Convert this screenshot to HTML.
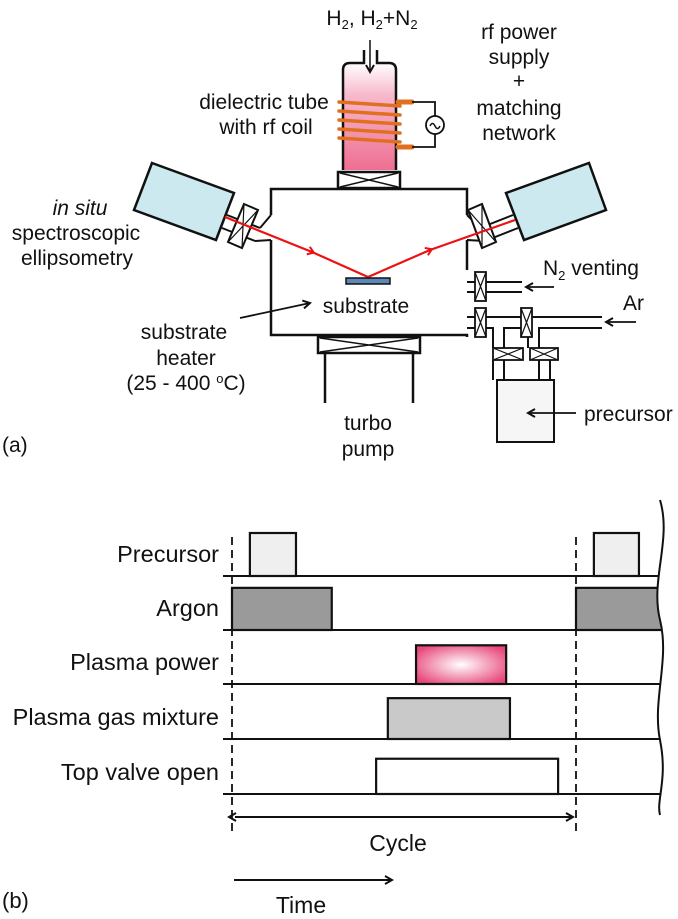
<!DOCTYPE html>
<html><head><meta charset="utf-8">
<style>
html,body{margin:0;padding:0;background:#fff;}
svg{display:block;}
text{font-family:"Liberation Sans",sans-serif;font-size:21px;fill:#111;}
</style></head>
<body>
<svg id="fig" width="678" height="919" viewBox="0 0 678 919" xmlns="http://www.w3.org/2000/svg">
<defs>
<linearGradient id="tubeGrad" x1="0" y1="0" x2="0" y2="1">
<stop offset="0" stop-color="#fff"/><stop offset="0.3" stop-color="#f7b9cc"/><stop offset="1" stop-color="#ee6f92"/>
</linearGradient>
<radialGradient id="plasmaGrad" cx="0.5" cy="0.5" r="0.6">
<stop offset="0" stop-color="#fff"/><stop offset="1" stop-color="#e8477a"/>
</radialGradient>
<marker id="ah" markerWidth="10" markerHeight="10" refX="8" refY="5" orient="auto" markerUnits="userSpaceOnUse">
<path d="M1,1 L8,5 L1,9" fill="none" stroke="#111" stroke-width="2"/></marker>
<marker id="ahs" markerWidth="10" markerHeight="10" refX="2" refY="5" orient="auto-start-reverse" markerUnits="userSpaceOnUse">
<path d="M1,1 L8,5 L1,9" fill="none" stroke="#111" stroke-width="2"/></marker>
<marker id="ahr" markerWidth="12" markerHeight="12" refX="6" refY="6" orient="auto" markerUnits="userSpaceOnUse">
<path d="M2,2 L8,6 L2,10" fill="none" stroke="#e11" stroke-width="2"/></marker>
</defs>

<g stroke="#111" stroke-width="2.5" fill="none">
  <path d="M271,215 V189 H467 V215 M271,240 V335 H467 V337 M467,240 V270" fill="none"/>
  <path d="M343,170 V70 Q343,63 350,63 H389 Q396,63 396,70 V170 Z" fill="url(#tubeGrad)" stroke="none"/>
  <path d="M343,170 V70 Q343,63 350,63 H364 V50 M377,50 V63 H389 Q396,63 396,70 V170"/>
  <line x1="370" y1="40" x2="370" y2="72" stroke-width="1.5" marker-end="url(#ah)"/>
  <g stroke="#e07020" stroke-width="3.5" stroke-linecap="round">
    <line x1="339" y1="102" x2="400" y2="106"/>
    <line x1="339" y1="111" x2="400" y2="115"/>
    <line x1="339" y1="120" x2="400" y2="124"/>
    <line x1="339" y1="129" x2="400" y2="133"/>
    <line x1="339" y1="138" x2="400" y2="142"/>
    <line x1="398" y1="102" x2="412" y2="102" stroke-width="5"/>
    <line x1="398" y1="147" x2="412" y2="147" stroke-width="5"/>
  </g>
  <path d="M412,102 H435 V116 M435,134 V147 H412" stroke-width="1.8"/>
  <circle cx="435" cy="125" r="9" stroke-width="1.8" fill="#fff"/>
  <path d="M430,126 q2.5,-5 5,0 t5,0" stroke-width="1.5"/>
  <rect x="338" y="172" width="62" height="16" fill="#fff"/>
  <path d="M340,173 L398,187 M340,187 L398,173" stroke-width="1.5"/>
  <rect x="318" y="337" width="102" height="16" fill="#fff"/>
  <path d="M320,338 L418,352 M320,352 L418,338" stroke-width="1.5"/>
  <line x1="325" y1="353" x2="325" y2="403"/>
  <line x1="413" y1="353" x2="413" y2="403"/>
  <polygon points="152,163 234,193 216,240 134,210" fill="#cce9ef"/>
  <polygon points="589,163 606,210 524,240 506,193" fill="#cce9ef"/>
  <path d="M227,215 L260,228 M222,228 L255,241 M271,215 L260,228 M271,240 L255,241" stroke-width="2"/>
  <path d="M513,215 L480,228 M518,228 L485,241 M467,215 L480,228 M467,240 L485,241" stroke-width="2"/>
  <polygon points="244,204 258,210 242,248 228,242" fill="#fff" stroke-width="2"/>
  <path d="M244,204 L242,248 M258,210 L228,242" stroke-width="1.2"/>
  <polygon points="482,204 496,242 482,248 468,210" fill="#fff" stroke-width="2"/>
  <path d="M482,204 L482,248 M468,210 L496,242" stroke-width="1.2"/>
  <g stroke="#e11" stroke-width="2.2">
    <line x1="225" y1="217" x2="312" y2="252" marker-end="url(#ahr)"/>
    <line x1="312" y1="252" x2="368" y2="277"/>
    <line x1="368" y1="277" x2="430" y2="250" marker-end="url(#ahr)"/>
    <line x1="430" y1="250" x2="515" y2="220"/>
  </g>
  <rect x="346" y="278" width="44" height="6" fill="#5b88b8" stroke-width="1.5"/>
  <line x1="240" y1="318" x2="310" y2="303" stroke-width="1.8" marker-end="url(#ah)"/>
  <path d="M467,282 H522 M467,292 H522" stroke-width="2"/>
  <rect x="475" y="272" width="11" height="29" fill="#fff" stroke-width="1.8"/>
  <path d="M475,272 L486,301 M486,272 L475,301" stroke-width="1.2"/>
  <line x1="554" y1="287" x2="526" y2="287" stroke-width="1.8" marker-end="url(#ah)"/>
  <path d="M467,317 H602 M467,328 H493 V348 M504,348 V328 H528 V348 M539,348 V328 H602" stroke-width="2"/>
  <rect x="475" y="308" width="11" height="29" fill="#fff" stroke-width="1.8"/>
  <path d="M475,308 L486,337 M486,308 L475,337" stroke-width="1.2"/>
  <rect x="521" y="308" width="11" height="29" fill="#fff" stroke-width="1.8"/>
  <path d="M521,308 L532,337 M532,308 L521,337" stroke-width="1.2"/>
  <line x1="636" y1="322" x2="606" y2="322" stroke-width="1.8" marker-end="url(#ah)"/>
  <path d="M493,360 V380 M504,360 V380 M539,360 V380 M550,360 V380" stroke-width="2"/>
  <rect x="493" y="348" width="30" height="12" fill="#fff" stroke-width="1.8"/>
  <path d="M493,348 L523,360 M523,348 L493,360" stroke-width="1.2"/>
  <rect x="530" y="348" width="28" height="12" fill="#fff" stroke-width="1.8"/>
  <path d="M530,348 L558,360 M558,348 L530,360" stroke-width="1.2"/>
  <rect x="497" y="380" width="57" height="62" fill="#f6f6f6" stroke-width="2"/>
  <line x1="576" y1="413" x2="528" y2="413" stroke-width="1.8" marker-end="url(#ah)"/>
</g>

<g>
  <text x="372" y="25" text-anchor="middle">H<tspan font-size="13" dy="4">2</tspan><tspan dy="-4">, H</tspan><tspan font-size="13" dy="4">2</tspan><tspan dy="-4">+N</tspan><tspan font-size="13" dy="4">2</tspan></text>
  <text text-anchor="middle">
    <tspan x="519" y="39">rf power</tspan><tspan x="519" y="64">supply</tspan><tspan x="519" y="88">+</tspan><tspan x="519" y="115">matching</tspan><tspan x="519" y="140">network</tspan></text>
  <text text-anchor="middle"><tspan x="264" y="109">dielectric tube</tspan><tspan x="266" y="134">with rf coil</tspan></text>
  <text text-anchor="middle"><tspan x="80" y="215" font-style="italic">in situ</tspan><tspan x="76" y="240">spectroscopic</tspan><tspan x="77" y="265">ellipsometry</tspan></text>
  <text x="366" y="313" text-anchor="middle">substrate</text>
  <text text-anchor="middle"><tspan x="184" y="339">substrate</tspan><tspan x="186" y="365">heater</tspan><tspan x="186" y="390">(25 - 400 <tspan font-size="13" dy="-7">o</tspan><tspan dy="7">C)</tspan></tspan></text>
  <text text-anchor="middle"><tspan x="368" y="430">turbo</tspan><tspan x="368" y="456">pump</tspan></text>
  <text x="543" y="275">N<tspan font-size="13" dy="5">2</tspan><tspan dy="-5"> venting</tspan></text>
  <text x="623" y="310">Ar</text>
  <text x="584" y="421">precursor</text>
  <text x="2" y="452">(a)</text>
</g>

<g id="timing"></g>
</svg>
<script>
// Timing diagram data (time in % of one cycle)
const rows = ["Precursor", "Argon", "Plasma power", "Plasma gas mixture", "Top valve open"];
const pulseStart = [5.2, 0, 53.5, 45.3, 41.9];
const pulseEnd = [18.6, 29, 79.7, 80.8, 94.8];
const nextStart = [105.2, 100, null, null, null];
const nextEnd = [118.3, 130, null, null, null];
const pulseLevel = [1.0, 0.98, 0.9, 0.95, 0.82];
const fills = ["#efefef", "#9a9a9a", "url(#plasmaGrad)", "#c9c9c9", "#ffffff"];

const NS = "http://www.w3.org/2000/svg";
const g = document.getElementById("timing");
const x0 = 232, x1 = 576;
function xs(t){ return x0 + (t/100)*(x1-x0); }
const baseY = [576, 630, 684, 739, 794];
const rowH = 43;
function ys(i, v){ return baseY[i] - v*rowH; }
function mk(tag, attrs){ const e=document.createElementNS(NS,tag); for(const k in attrs) e.setAttribute(k,attrs[k]); g.appendChild(e); return e; }

const clip = document.createElementNS(NS,"clipPath"); clip.setAttribute("id","wavyClip");
const cp = document.createElementNS(NS,"path"); cp.setAttribute("d","M0,0 H660 V500 C672,540 650,580 660,620 C670,660 652,700 660,740 C668,780 656,800 660,815 V919 H0 Z");
clip.appendChild(cp); g.appendChild(clip);

rows.forEach((name,i)=>{
  const lab = mk("text",{x:219,y:baseY[i]-22+8,"text-anchor":"end",style:"font-size:23.5px"});
  lab.textContent = name;
  
  
  const r = mk("rect",{x:xs(pulseStart[i]),y:ys(i,pulseLevel[i]),width:xs(pulseEnd[i])-xs(pulseStart[i]),height:pulseLevel[i]*rowH,fill:fills[i],stroke:"#111","stroke-width":2.2,"clip-path":"url(#wavyClip)"});
  
  
  if(nextStart[i]!==null){
    const r2 = mk("rect",{x:xs(nextStart[i]),y:ys(i,pulseLevel[i]),width:xs(nextEnd[i])-xs(nextStart[i]),height:pulseLevel[i]*rowH,fill:fills[i],stroke:"#111","stroke-width":2.2,"clip-path":"url(#wavyClip)"});
    
    
  }
  const bl = mk("line",{x1:223,y1:baseY[i],x2:664,y2:baseY[i],stroke:"#111","stroke-width":2,"clip-path":"url(#wavyClip)"});
  
  
});
[0,100].forEach(t=>{
  const d = mk("line",{x1:xs(t),y1:537,x2:xs(t),y2:833,stroke:"#111","stroke-width":1.8,"stroke-dasharray":"8,5"});
  
  
});
const w = mk("path",{d:"M660,500 C672,540 650,580 660,620 C670,660 652,700 660,740 C668,780 656,800 660,815",fill:"none",stroke:"#111","stroke-width":2});


const ca = mk("line",{x1:xs(0)+3,y1:817,x2:xs(100)-3,y2:817,stroke:"#111","stroke-width":2,"marker-start":"url(#ahs)","marker-end":"url(#ah)"});


const ct = mk("text",{x:398,y:851,"text-anchor":"middle",style:"font-size:23px"}); ct.textContent="Cycle";


const ta = mk("line",{x1:234,y1:880,x2:392,y2:880,stroke:"#111","stroke-width":2,"marker-end":"url(#ah)"});


const tt = mk("text",{x:301,y:913,"text-anchor":"middle",style:"font-size:23px"}); tt.textContent="Time";


const pb = mk("text",{x:2,y:908,style:"font-size:22px"}); pb.textContent="(b)";


</script>
</body></html>
